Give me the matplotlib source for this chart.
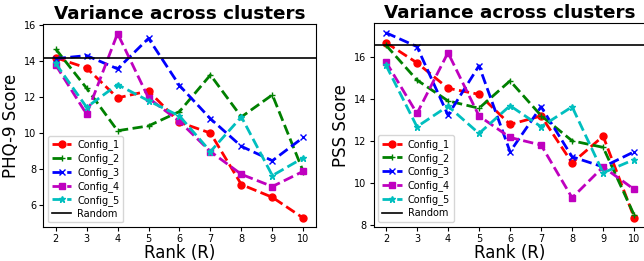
import matplotlib
matplotlib.use('Agg')
import matplotlib.pyplot as plt
import numpy as np

ranks = [2, 3, 4, 5, 6, 7, 8, 9, 10]
labels = ['Config_1', 'Config_2', 'Config_3', 'Config_4', 'Config_5']
fmts = ['r--o', 'g--+', 'b--x', 'm--s', 'c--*']

# PHQ-9 panel
phq_c1 = [14.2, 13.63, 11.96, 12.35, 10.6, 10.0, 7.13, 6.42, 5.26]
phq_c2 = [14.69, 12.5, 10.13, 10.4, 11.2, 13.24, 10.9, 12.13, 7.85]
phq_c3 = [14.15, 14.32, 13.58, 15.28, 12.65, 10.8, 9.26, 8.46, 9.76]
phq_c4 = [13.8, 11.05, 15.55, 11.95, 10.65, 8.97, 7.7, 7.02, 7.87]
phq_c5 = [13.88, 11.44, 12.7, 11.8, 10.95, 8.97, 10.9, 7.63, 8.62]
phq_random = 14.2

# PSS panel
pss_c1 = [16.67, 15.71, 14.5, 14.21, 12.78, 13.18, 10.95, 12.22, 8.35]
pss_c2 = [16.55, 14.89, 13.9, 13.55, 14.85, 13.2, 12.0, 11.69, 8.47]
pss_c3 = [17.14, 16.48, 13.22, 15.57, 11.48, 13.62, 11.24, 10.76, 11.48]
pss_c4 = [15.76, 13.3, 16.19, 13.18, 12.16, 11.8, 9.29, 10.76, 9.69]
pss_c5 = [15.6, 12.67, 13.65, 12.35, 13.67, 12.67, 13.62, 10.48, 11.11]
pss_random = 16.56

panels = [
    ('PHQ-9 Score', [phq_c1, phq_c2, phq_c3, phq_c4, phq_c5], phq_random),
    ('PSS Score', [pss_c1, pss_c2, pss_c3, pss_c4, pss_c5], pss_random),
]

fig = plt.figure(figsize=(6.44, 2.61), dpi=100)
positions = [[0.0672, 0.129, 0.423, 0.778], [0.580, 0.131, 0.424, 0.779]]

for pos, (ylab, series, rnd) in zip(positions, panels):
    ax = fig.add_axes(pos)
    for ys, f, lab in zip(series, fmts, labels):
        ax.plot(ranks, ys, f, label=lab, lw=2, ms=5)
    ax.axhline(rnd, color='k', lw=1.2, label='Random')
    ax.set_title('Variance across clusters', fontsize=13.2, fontweight='bold', pad=4)
    ax.set_xlabel('Rank (R)', fontsize=12, labelpad=0)
    ax.set_ylabel(ylab, fontsize=12, labelpad=3)
    ax.set_xticks(ranks)
    ax.tick_params(labelsize=7, length=3, pad=2)
    ax.legend(loc='lower left', fontsize=7, handlelength=2.0, labelspacing=0.3,
              borderpad=0.4, handletextpad=0.6)

fig.savefig('out.png', dpi=100)
